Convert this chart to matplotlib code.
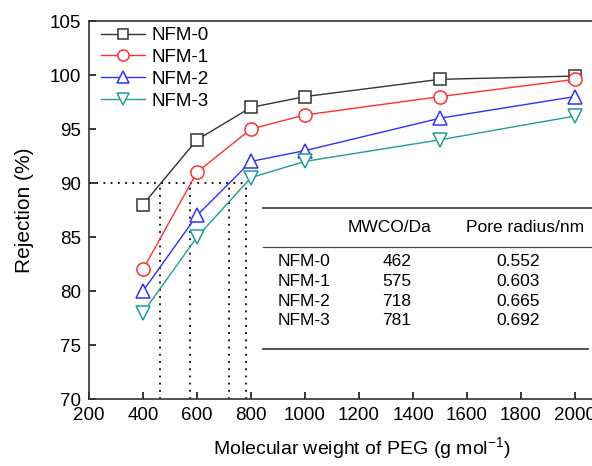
import matplotlib
matplotlib.use("Agg")
import matplotlib.pyplot as plt
from matplotlib.lines import Line2D

plt.rcParams['font.family'] = ['Liberation Sans', 'DejaVu Sans']
plt.rcParams['mathtext.fontset'] = 'custom'
plt.rcParams['mathtext.rm'] = 'Liberation Sans'
plt.rcParams['mathtext.it'] = 'Liberation Sans:italic'
plt.rcParams['axes.unicode_minus'] = False

# ---- data ----
peg_mw = [400, 600, 800, 1000, 1500, 2000]
series_names = ["NFM-0", "NFM-1", "NFM-2", "NFM-3"]
nfm0 = [88.0, 94.0, 97.0, 98.0, 99.6, 99.9]
nfm1 = [82.0, 91.0, 95.0, 96.3, 98.0, 99.6]
nfm2 = [80.0, 87.0, 92.0, 93.0, 96.0, 98.0]
nfm3 = [78.0, 85.0, 90.5, 92.0, 94.0, 96.2]
series_values = [nfm0, nfm1, nfm2, nfm3]
mwco = [462, 575, 718, 781]
pore_radius = ["0.552", "0.603", "0.665", "0.692"]
rejection_cut = 90
x_ticks = [200, 400, 600, 800, 1000, 1200, 1400, 1600, 1800, 2000]
y_ticks = [70, 75, 80, 85, 90, 95, 100, 105]
table_header = ["MWCO/Da", "Pore radius/nm"]

colors = ["#333333", "#ff3030", "#3030ff", "#1f9e96"]
markers = ["s", "o", "^", "v"]
msizes = [8.5, 9.5, 10, 10]

W, H = 592, 466
fig = plt.figure(figsize=(W / 100, H / 100), dpi=100)

def fx(px):
    return px / W

def fy(py):
    return 1 - py / H

ax = fig.add_axes([fx(89), fy(399), (602 - 89) / W, (399 - 21) / H])
ax.set_xlim(200, 2100)
ax.set_ylim(70, 105)

handles = []
for name, vals, c, m, ms in zip(series_names, series_values, colors, markers, msizes):
    h, = ax.plot(peg_mw, vals, color=c, marker=m, markersize=ms,
                 markerfacecolor="white", markeredgecolor=c, markeredgewidth=1.1,
                 linewidth=1.0, label=name, zorder=3)
    handles.append(h)

# dotted guide lines
ax.plot([200, max(mwco)], [rejection_cut, rejection_cut], color="black",
        linestyle=(0, (1, 3)), linewidth=1.3, zorder=2)
for v in mwco:
    ax.plot([v, v], [70, rejection_cut], color="black",
            linestyle=(0, (1, 3)), linewidth=1.3, zorder=2)

ax.set_xticks(x_ticks)
ax.set_yticks(y_ticks)
ax.tick_params(direction="in", length=5, width=1.1, labelsize=13.5, pad=6,
               top=False, right=False)
for s in ax.spines.values():
    s.set_linewidth(1.2)
    s.set_color("#333333")

fig.text(fx(25), fy(210), "Rejection (%)", rotation=90, fontsize=15,
         ha="center", va="center")
fig.text(fx(362), fy(448), "Molecular weight of PEG (g mol$^{-1}$)", fontsize=14,
         ha="center", va="center")

leg = ax.legend(handles=handles, loc="upper left", frameon=False,
                bbox_to_anchor=(fx(101), fy(27)), bbox_transform=fig.transFigure,
                borderpad=0, borderaxespad=0, fontsize=13.5,
                handlelength=2.35, handletextpad=0.35, labelspacing=0.25,
                markerscale=0.85)

# ---- table ----
def hline(y, x0, x1, lw):
    fig.add_artist(Line2D([fx(x0), fx(x1)], [fy(y), fy(y)], color="#444444",
                          linewidth=lw, transform=fig.transFigure))

hline(208, 263, 600, 1.3)
hline(247, 263, 591, 0.9)
hline(349, 263, 588, 1.3)

fs_t = 12.5
fig.text(fx(390), fy(228), table_header[0], fontsize=fs_t, ha="center", va="center")
fig.text(fx(525), fy(228), table_header[1], fontsize=fs_t, ha="center", va="center")
row_y = [262, 281.5, 301, 320.5]
for name, mw, pr, y in zip(series_names, mwco, pore_radius, row_y):
    fig.text(fx(278), fy(y), name, fontsize=fs_t, ha="left", va="center")
    fig.text(fx(397), fy(y), str(mw), fontsize=fs_t, ha="center", va="center")
    fig.text(fx(518), fy(y), pr, fontsize=fs_t, ha="center", va="center")

fig.savefig("out.png", dpi=100)
